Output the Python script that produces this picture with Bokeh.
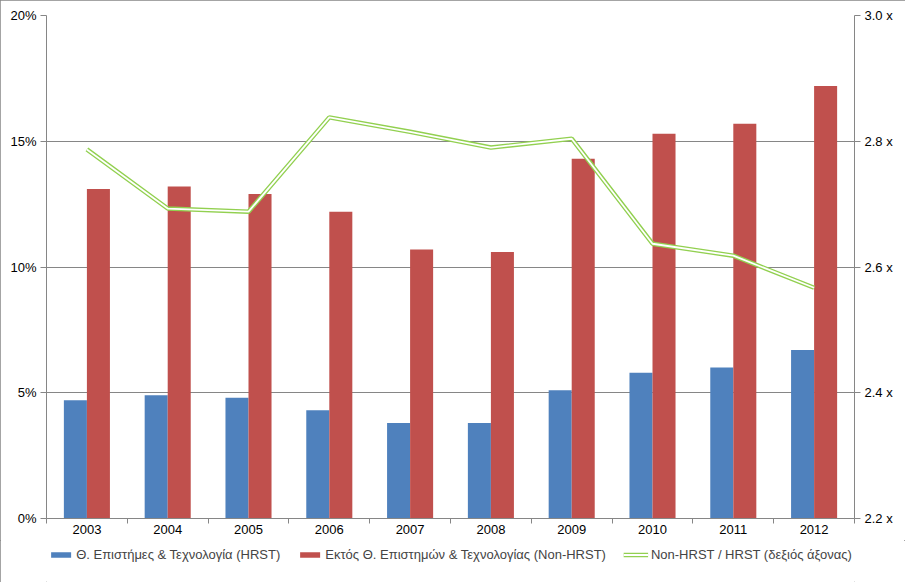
import numpy as np
from bokeh.plotting import figure
from bokeh.layouts import column
from bokeh.models import (ColumnDataSource, Range1d, LinearAxis, FixedTicker,
                          PrintfTickFormatter, Legend, LegendItem)
from bokeh.embed import file_html
from bokeh.resources import INLINE

years = ["2003", "2004", "2005", "2006", "2007", "2008", "2009", "2010", "2011", "2012"]
hrst = [4.7, 4.9, 4.8, 4.3, 3.8, 3.8, 5.1, 5.8, 6.0, 6.7]
non_hrst = [13.1, 13.2, 12.9, 12.2, 10.7, 10.6, 14.3, 15.3, 15.7, 17.2]
ratio = [2.787, 2.693, 2.688, 2.838, 2.815, 2.790, 2.804, 2.637, 2.618, 2.567]

name_hrst = "Θ. Επιστήμες & Τεχνολογία (HRST)"
name_non = "Εκτός Θ. Επιστημών & Τεχνολογίας (Non-HRST)"
name_ratio = "Non-HRST / HRST (δεξιός άξονας)"

FONT = "Liberation Sans"
FS = "13px"
GRAY = "#868686"
BLUE, RED, GREEN = "#4F81BD", "#C0504D", "#92D050"

centers = np.arange(len(years)) + 0.5
bw = 0.285
src = ColumnDataSource(dict(x=centers, hrst=hrst, non=non_hrst, ratio=ratio,
                            xb=centers - bw / 2, xr=centers + bw / 2))

p = figure(width=905, height=540, output_backend="svg", toolbar_location=None,
           x_range=Range1d(0, len(years)), y_range=Range1d(0, 20),
           min_border_left=46, min_border_right=51, min_border_top=15, min_border_bottom=22)
p.outline_line_color = None
p.xgrid.grid_line_color = None
p.ygrid.grid_line_color = GRAY
p.ygrid.grid_line_width = 1

p.extra_y_ranges = {"r": Range1d(2.2, 3.0)}

p.vbar(x="xb", top="hrst", width=bw, source=src, fill_color=BLUE, line_color=None)
p.vbar(x="xr", top="non", width=bw, source=src, fill_color=RED, line_color=None)
p.line(x="x", y="ratio", source=src, y_range_name="r", line_color=GREEN, line_width=4.5)
p.line(x="x", y="ratio", source=src, y_range_name="r", line_color="white", line_width=1.8)

# x axis
xa = p.xaxis[0]
xa.ticker = FixedTicker(ticks=list(centers), minor_ticks=list(np.arange(len(years) + 1)))
xa.major_label_overrides = {float(c): y for c, y in zip(centers, years)}
xa.major_tick_out = 0
xa.major_tick_in = 0
xa.minor_tick_out = 5
xa.minor_tick_in = 0
xa.minor_tick_line_color = GRAY
xa.axis_line_color = GRAY

# left axis
ya = p.yaxis[0]
ya.ticker = FixedTicker(ticks=[0, 5, 10, 15, 20])
ya.formatter = PrintfTickFormatter(format="%d%%")
ya.major_tick_out = 6
ya.major_tick_in = 0
ya.minor_tick_out = 0
ya.minor_tick_in = 0
ya.axis_line_color = GRAY
ya.major_tick_line_color = GRAY

# right axis
ra = LinearAxis(y_range_name="r", ticker=FixedTicker(ticks=[2.2, 2.4, 2.6, 2.8, 3.0]),
                formatter=PrintfTickFormatter(format="%.1f x"))
ra.major_tick_out = 6
ra.major_tick_in = 0
ra.minor_tick_out = 0
ra.minor_tick_in = 0
ra.axis_line_color = GRAY
ra.major_tick_line_color = GRAY
p.add_layout(ra, "right")

for ax in [xa, ya, ra]:
    ax.major_label_text_font = FONT
    ax.major_label_text_font_size = FS
    ax.major_label_text_color = "black"
    ax.major_label_standoff = 4
xa.major_label_standoff = 1

# legend strip (same series styles, drawn off-range so only the legend shows)
lg = figure(width=905, height=42, output_backend="svg", toolbar_location=None,
            x_range=Range1d(100, 101), y_range=Range1d(100, 101),
            x_axis_type=None, y_axis_type=None, min_border=0)
lg.outline_line_color = None
lg.xgrid.grid_line_color = None
lg.ygrid.grid_line_color = None
d1 = lg.vbar(x="xb", top="hrst", width=bw, source=src, fill_color=BLUE, line_color=None)
d2 = lg.vbar(x="xr", top="non", width=bw, source=src, fill_color=RED, line_color=None)
d3 = lg.line(x="x", y="ratio", source=src, line_color=GREEN, line_width=4.5)
d4 = lg.line(x="x", y="ratio", source=src, line_color="white", line_width=1.8)

legend = Legend(items=[LegendItem(label=name_hrst, renderers=[d1]),
                       LegendItem(label=name_non, renderers=[d2]),
                       LegendItem(label=name_ratio, renderers=[d3, d4])],
                orientation="horizontal", location="top_center",
                label_text_font=FONT, label_text_font_size=FS,
                glyph_width=25, glyph_height=7, spacing=17, padding=0, margin=7,
                label_standoff=3, border_line_color=None, background_fill_alpha=0)
lg.add_layout(legend, "center")

layout = column(p, lg, spacing=0, styles={"outline": "1px solid #868686", "outline-offset": "-1px"})
open("out.html", "w").write(file_html(layout, INLINE))
